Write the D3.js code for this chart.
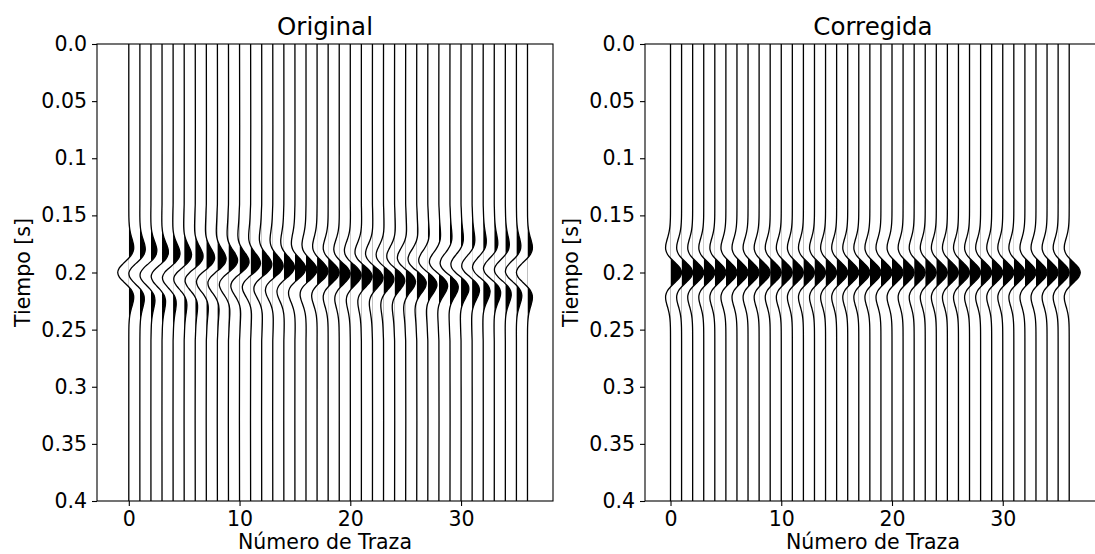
<!DOCTYPE html>
<html>
<head>
<meta charset="utf-8">
<script src="https://cdn.jsdelivr.net/npm/d3@7"></script>
<style>
  body { margin: 0; background: #fff; }
  text { font-family: "DejaVu Sans", sans-serif; fill: #000; }
</style>
</head>
<body>
<svg id="fig" width="1095" height="554"></svg>
<script>
// trace numbers (x axis categories)
var traceNumbers = d3.range(0, 37);

// phase of the wavelet on each trace of the original gather, degrees
var phaseOriginal = [180, 170, 160, 150, 140, 130, 120, 110, 100, 90,
                     80, 70, 60, 50, 40, 30, 20, 10, 0, -10,
                     -20, -30, -40, -50, -60, -70, -80, -90, -100, -110,
                     -120, -130, -140, -150, -160, -170, -180];
// after correction every trace is zero phase
var phaseCorrected = phaseOriginal.map(function(){ return 0; });

var eventTime = 0.2;  // s

// wavelet samples around the event: time offset (ms), zero-phase part and 90 degree part
var waveletMs = [-60, -56, -52, -48, -44, -40, -36, -32, -28, -24, -20, -16, -12, -8, -4, 0,
                 4, 8, 12, 16, 20, 24, 28, 32, 36, 40, 44, 48, 52, 56, 60];
var waveletZero = [0, -0.001, -0.003, -0.009, -0.025, -0.058, -0.119, -0.215, -0.332, -0.428, -0.432, -0.276, 0.056, 0.486, 0.854, 1,
                   0.854, 0.486, 0.056, -0.276, -0.432, -0.428, -0.332, -0.215, -0.119, -0.058, -0.025, -0.009, -0.003, -0.001, 0];
var waveletQuad = [0, 0.018, 0.036, 0.054, 0.076, 0.102, 0.122, 0.113, 0.041, -0.121, -0.366, -0.637, -0.812, -0.772, -0.475, 0,
                   0.475, 0.772, 0.812, 0.637, 0.366, 0.121, -0.041, -0.113, -0.122, -0.102, -0.076, -0.054, -0.036, -0.018, 0];

var yTicks = [0, 0.05, 0.1, 0.15, 0.2, 0.25, 0.3, 0.35, 0.4];
var yTickLabels = ["0.0", "0.05", "0.1", "0.15", "0.2", "0.25", "0.3", "0.35", "0.4"];
var xTicks = [0, 10, 20, 30];
var xTickLabels = ["0", "10", "20", "30"];

var panels = [
  { title: "Original", left: 97, phases: phaseOriginal },
  { title: "Corregida", left: 645, phases: phaseCorrected }
];

var plotW = 456, plotTop = 44, plotBottom = 501;
var tickFont = "20.5px", labelFont = "20.5px", titleFont = "24.5px";

var svg = d3.select("#fig");
var defs = svg.append("defs");

// rotated wavelet samples for one trace: [time, amplitude]
function traceSamples(phaseDeg){
  var p = phaseDeg * Math.PI / 180;
  var pts = [[0, 0]];
  waveletMs.forEach(function(ms, k){
    pts.push([eventTime + ms / 1000, Math.cos(p) * waveletZero[k] - Math.sin(p) * waveletQuad[k]]);
  });
  pts.push([0.4, 0]);
  return pts;
}

panels.forEach(function(panel, pi){
  var traces = traceNumbers.map(function(n){
    return { n: n, pts: traceSamples(panel.phases[n]) };
  });

  // matplotlib style autoscale: data extent + 5% margins
  var lo = d3.min(traces, function(t){ return d3.min(t.pts, function(d){ return t.n + d[1]; }); });
  var hi = d3.max(traces, function(t){ return d3.max(t.pts, function(d){ return t.n + d[1]; }); });
  var pad = (hi - lo) * 0.05;

  var x = d3.scaleLinear().domain([lo - pad, hi + pad]).range([panel.left, panel.left + plotW]);
  var y = d3.scaleLinear().domain([0, 0.4]).range([plotTop, plotBottom]);

  var curve = d3.curveCatmullRom.alpha(0.5);
  var g = svg.append("g");

  traces.forEach(function(t){
    var id = "clip" + pi + "_" + t.n;
    defs.append("clipPath").attr("id", id)
      .append("rect")
      .attr("x", x(t.n)).attr("y", plotTop)
      .attr("width", 40).attr("height", plotBottom - plotTop);

    var area = d3.area()
      .y(function(d){ return y(d[0]); })
      .x0(x(t.n))
      .x1(function(d){ return x(t.n + d[1]); })
      .curve(curve);
    g.append("path")
      .attr("d", area(t.pts))
      .attr("clip-path", "url(#" + id + ")")
      .attr("fill", "#000");

    var line = d3.line()
      .y(function(d){ return y(d[0]); })
      .x(function(d){ return x(t.n + d[1]); })
      .curve(curve);
    g.append("path")
      .attr("d", line(t.pts))
      .attr("fill", "none")
      .attr("stroke", "#000")
      .attr("stroke-width", 1.3);
  });

  // axes
  var yAxis = d3.axisLeft(y).tickValues(yTicks)
    .tickFormat(function(d, i){ return yTickLabels[i]; })
    .tickSize(5).tickSizeOuter(0).tickPadding(5);
  var ya = svg.append("g").attr("transform", "translate(" + panel.left + ",0)").call(yAxis);

  var xAxis = d3.axisBottom(x).tickValues(xTicks)
    .tickFormat(function(d, i){ return xTickLabels[i]; })
    .tickSize(5).tickSizeOuter(0).tickPadding(5);
  var xa = svg.append("g").attr("transform", "translate(0," + plotBottom + ")").call(xAxis);

  [ya, xa].forEach(function(a){
    a.select(".domain").remove();
    a.selectAll("line").attr("stroke", "#000").attr("stroke-width", 1.1);
    a.selectAll("text").attr("font-size", tickFont).attr("font-family", "DejaVu Sans");
  });

  // spines
  svg.append("rect")
    .attr("x", panel.left).attr("y", plotTop)
    .attr("width", plotW).attr("height", plotBottom - plotTop)
    .attr("fill", "none").attr("stroke", "#000").attr("stroke-width", 1.1);

  svg.append("text")
    .attr("x", panel.left + plotW / 2).attr("y", 35)
    .attr("text-anchor", "middle").attr("font-size", titleFont)
    .text(panel.title);

  svg.append("text")
    .attr("x", panel.left + plotW / 2).attr("y", 549)
    .attr("text-anchor", "middle").attr("font-size", labelFont)
    .text("Número de Traza");

  svg.append("text")
    .attr("transform", "translate(" + (panel.left - 67) + "," + ((plotTop + plotBottom) / 2) + ") rotate(-90)")
    .attr("text-anchor", "middle").attr("font-size", labelFont)
    .text("Tiempo [s]");
});
</script>
</body>
</html>
